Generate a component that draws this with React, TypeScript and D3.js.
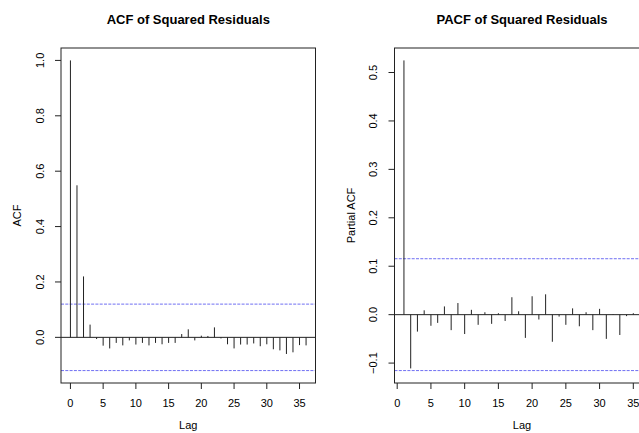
import React, { useEffect, useRef } from 'react';
import * as d3 from 'd3';

// ACF of squared residuals, lags 0..36
const acfLags = d3.range(0, 37);
const acfValues = [
  1.0, 0.549, 0.22, 0.046, -0.006, -0.03, -0.04, -0.02, -0.029, -0.011,
  -0.026, -0.02, -0.029, -0.02, -0.025, -0.02, -0.02, 0.012, 0.029, -0.011,
  0.006, 0.005, 0.036, -0.004, -0.025, -0.04, -0.026, -0.026, -0.022, -0.032,
  -0.025, -0.043, -0.047, -0.06, -0.054, -0.028, -0.029,
];
const acfCi = 0.12;

// PACF of squared residuals, lags 1..36
const pacfLags = d3.range(1, 37);
const pacfValues = [
  0.525, -0.111, -0.035, 0.009, -0.023, -0.017, 0.017, -0.032, 0.024, -0.04,
  0.01, -0.021, 0.005, -0.019, 0.003, -0.013, 0.036, 0.007, -0.048, 0.038,
  -0.01, 0.042, -0.056, -0.004, -0.021, 0.013, -0.024, 0.005, -0.032, 0.012,
  -0.05, 0.001, -0.042, -0.003, 0.003, -0.01,
];
const pacfCi = 0.1155;

const xTicks = [0, 5, 10, 15, 20, 25, 30, 35];
const acfTicks = [0, 0.2, 0.4, 0.6, 0.8, 1.0];
const pacfTicks = [-0.1, 0, 0.1, 0.2, 0.3, 0.4, 0.5];

const FONT = "'Liberation Sans', Arial, Helvetica, sans-serif";

const drawPanel = (svg, p) => {
  const { left, right, top, bottom, lags, values, ci, yTicks, title, ylab, tickX, ylabX } = p;

  // R-style 4% range extension
  const xr = d3.extent(lags);
  const xpad = (xr[1] - xr[0]) * 0.04;
  const x = d3.scaleLinear().domain([xr[0] - xpad, xr[1] + xpad]).range([left, right]);

  const yr = d3.extent([...values, ci, -ci]);
  const ypad = (yr[1] - yr[0]) * 0.04;
  const y = d3.scaleLinear().domain([yr[0] - ypad, yr[1] + ypad]).range([bottom, top]);

  const g = svg.append('g');

  // zero line
  g.append('line')
    .attr('x1', left).attr('x2', right)
    .attr('y1', y(0)).attr('y2', y(0))
    .attr('stroke', '#222').attr('stroke-width', 1);

  // confidence bounds
  [ci, -ci].forEach((c) => {
    g.append('line')
      .attr('x1', left).attr('x2', right)
      .attr('y1', y(c)).attr('y2', y(c))
      .attr('stroke', '#6f6ff2')
      .attr('stroke-width', 1)
      .attr('stroke-dasharray', '3,1.3');
  });

  // spikes
  g.selectAll('line.spike')
    .data(lags)
    .enter()
    .append('line')
    .attr('class', 'spike')
    .attr('x1', (d) => x(d)).attr('x2', (d) => x(d))
    .attr('y1', y(0))
    .attr('y2', (d, i) => y(values[i]))
    .attr('stroke', '#222')
    .attr('stroke-width', 1);

  // box
  g.append('rect')
    .attr('x', left).attr('y', top)
    .attr('width', right - left).attr('height', bottom - top)
    .attr('fill', 'none').attr('stroke', '#222').attr('stroke-width', 1);

  // x axis
  xTicks.forEach((t) => {
    g.append('line')
      .attr('x1', x(t)).attr('x2', x(t))
      .attr('y1', bottom).attr('y2', bottom + 6)
      .attr('stroke', '#222');
    g.append('text')
      .attr('x', x(t)).attr('y', bottom + 24)
      .attr('text-anchor', 'middle')
      .attr('font-size', 11)
      .attr('font-family', FONT)
      .text(t);
  });
  g.append('text')
    .attr('x', (left + right) / 2).attr('y', bottom + 46)
    .attr('text-anchor', 'middle')
    .attr('font-size', 11)
    .attr('font-family', FONT)
    .text('Lag');

  // y axis
  yTicks.forEach((t) => {
    g.append('line')
      .attr('x1', left - 6).attr('x2', left)
      .attr('y1', y(t)).attr('y2', y(t))
      .attr('stroke', '#222');
    g.append('text')
      .attr('transform', `translate(${tickX},${y(t)}) rotate(-90)`)
      .attr('text-anchor', 'middle')
      .attr('dy', '0.35em')
      .attr('font-size', 11)
      .attr('font-family', FONT)
      .text(d3.format('.1f')(t));
  });
  g.append('text')
    .attr('transform', `translate(${ylabX},${(top + bottom) / 2}) rotate(-90)`)
    .attr('text-anchor', 'middle')
    .attr('dy', '0.35em')
    .attr('font-size', 11)
    .attr('font-family', FONT)
    .text(ylab);

  // title
  g.append('text')
    .attr('x', (left + right) / 2).attr('y', 24)
    .attr('text-anchor', 'middle')
    .attr('font-size', 13)
    .attr('font-weight', 'bold')
    .attr('font-family', FONT)
    .text(title);
};

const App = () => {
  const svgRef = useRef(null);

  useEffect(() => {
    const svg = d3.select(svgRef.current);
    svg.selectAll('*').remove();

    drawPanel(svg, {
      left: 61, right: 315.5, top: 48, bottom: 383,
      lags: acfLags, values: acfValues, ci: acfCi,
      yTicks: acfTicks, title: 'ACF of Squared Residuals', ylab: 'ACF',
      tickX: 40, ylabX: 17,
    });
    drawPanel(svg, {
      left: 394.5, right: 649.5, top: 48, bottom: 383,
      lags: pacfLags, values: pacfValues, ci: pacfCi,
      yTicks: pacfTicks, title: 'PACF of Squared Residuals', ylab: 'Partial ACF',
      tickX: 373, ylabX: 351,
    });
  }, []);

  return (
    <div style={{ position: 'absolute', left: 0, top: 0, width: 639, height: 433, background: '#fff', overflow: 'hidden' }}>
      <svg ref={svgRef} width={639} height={433} style={{ display: 'block' }}></svg>
    </div>
  );
};

export default App;
